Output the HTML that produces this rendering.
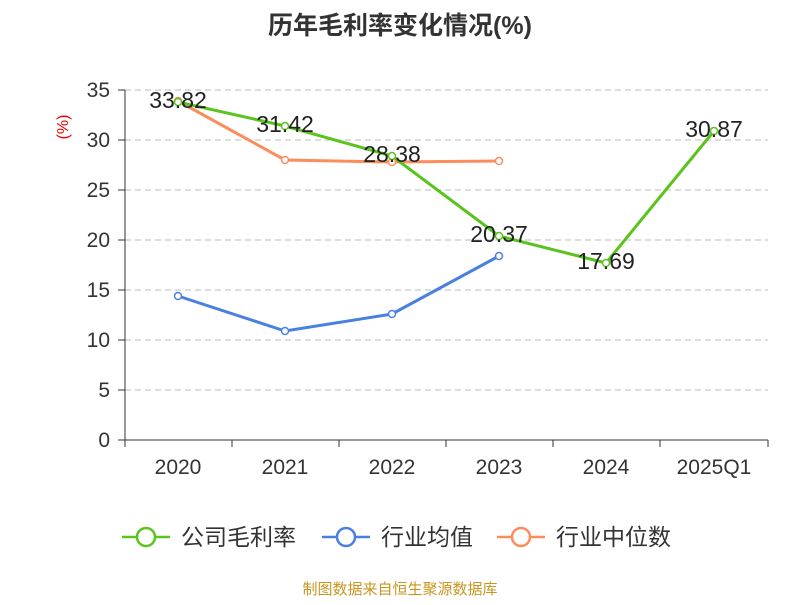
<!DOCTYPE html>
<html><head><meta charset="utf-8"><style>
body{margin:0;background:#fff;}
svg text{font-family:"Liberation Sans","Noto Sans CJK SC",sans-serif;}
</style></head><body>
<svg width="800" height="600" xmlns="http://www.w3.org/2000/svg">
<text x="400" y="34" text-anchor="middle" font-size="25" font-weight="bold" fill="#333">历年毛利率变化情况(%)</text>
<g stroke="#bbb" stroke-dasharray="6,4" stroke-width="1">
<line x1="125" y1="90" x2="768" y2="90"/><line x1="125" y1="140" x2="768" y2="140"/>
<line x1="125" y1="190" x2="768" y2="190"/><line x1="125" y1="240" x2="768" y2="240"/>
<line x1="125" y1="290" x2="768" y2="290"/><line x1="125" y1="340" x2="768" y2="340"/>
<line x1="125" y1="390" x2="768" y2="390"/>
</g>
<line x1="125" y1="90" x2="125" y2="440" stroke="#333"/>
<line x1="125" y1="440" x2="768" y2="440" stroke="#333"/>
<g stroke="#333">
<line x1="118" y1="90" x2="125" y2="90"/><line x1="118" y1="140" x2="125" y2="140"/><line x1="118" y1="190" x2="125" y2="190"/><line x1="118" y1="240" x2="125" y2="240"/><line x1="118" y1="290" x2="125" y2="290"/><line x1="118" y1="340" x2="125" y2="340"/><line x1="118" y1="390" x2="125" y2="390"/><line x1="118" y1="440" x2="125" y2="440"/>
<line x1="125" y1="440" x2="125" y2="447"/><line x1="232" y1="440" x2="232" y2="447"/><line x1="339" y1="440" x2="339" y2="447"/><line x1="446" y1="440" x2="446" y2="447"/><line x1="553" y1="440" x2="553" y2="447"/><line x1="660" y1="440" x2="660" y2="447"/><line x1="768" y1="440" x2="768" y2="447"/>
</g>
<g font-size="21" fill="#333" text-anchor="end">
<text x="110" y="97">35</text><text x="110" y="147">30</text><text x="110" y="197">25</text><text x="110" y="247">20</text><text x="110" y="297">15</text><text x="110" y="347">10</text><text x="110" y="397">5</text><text x="110" y="447">0</text>
</g>
<text x="68" y="127" font-size="16" fill="#e00" text-anchor="middle" transform="rotate(-90 68 127)">(%)</text>
<g font-size="21" fill="#333" text-anchor="middle">
<text x="178" y="474">2020</text><text x="285" y="474">2021</text><text x="392" y="474">2022</text><text x="499" y="474">2023</text><text x="606" y="474">2024</text><text x="714" y="474">2025Q1</text>
</g>
<polyline points="178,101 285,160 392,162 499,161" fill="none" stroke="#fc8c5c" stroke-width="3"/>
<polyline points="178,296 285,331 392,314 499,256" fill="none" stroke="#4a80e0" stroke-width="3"/>
<polyline points="178,102 285,126 392,156 499,236 606,263 714,131" fill="none" stroke="#5ac41e" stroke-width="3"/>
<g fill="#fff" stroke-width="1.5">
<g stroke="#fc8c5c"><circle cx="178" cy="101" r="3.5"/><circle cx="285" cy="160" r="3.5"/><circle cx="392" cy="162" r="3.5"/><circle cx="499" cy="161" r="3.5"/></g>
<g stroke="#4a80e0"><circle cx="178" cy="296" r="3.5"/><circle cx="285" cy="331" r="3.5"/><circle cx="392" cy="314" r="3.5"/><circle cx="499" cy="256" r="3.5"/></g>
<g stroke="#5ac41e"><circle cx="178" cy="102" r="3.5"/><circle cx="285" cy="126" r="3.5"/><circle cx="392" cy="156" r="3.5"/><circle cx="499" cy="236" r="3.5"/><circle cx="606" cy="263" r="3.5"/><circle cx="714" cy="131" r="3.5"/></g>
</g>
<g font-size="23" fill="#222" text-anchor="middle">
<text x="178" y="108">33.82</text><text x="285" y="132">31.42</text><text x="392" y="162">28.38</text><text x="499" y="242">20.37</text><text x="606" y="269">17.69</text><text x="714" y="137">30.87</text>
</g>
<g stroke-width="2.5" fill="#fff">
<line x1="122" y1="537" x2="170" y2="537" stroke="#5ac41e"/><circle cx="146" cy="537" r="9" stroke="#5ac41e"/>
<line x1="322" y1="537" x2="370" y2="537" stroke="#4a80e0"/><circle cx="346" cy="537" r="9" stroke="#4a80e0"/>
<line x1="497" y1="537" x2="545" y2="537" stroke="#fc8c5c"/><circle cx="521" cy="537" r="9" stroke="#fc8c5c"/>
</g>
<g font-size="23" fill="#333">
<text x="181" y="545">公司毛利率</text><text x="381" y="545">行业均值</text><text x="556" y="545">行业中位数</text>
</g>
<text x="400" y="594" font-size="15" fill="#c8961e" text-anchor="middle">制图数据来自恒生聚源数据库</text>
</svg>
</body></html>
